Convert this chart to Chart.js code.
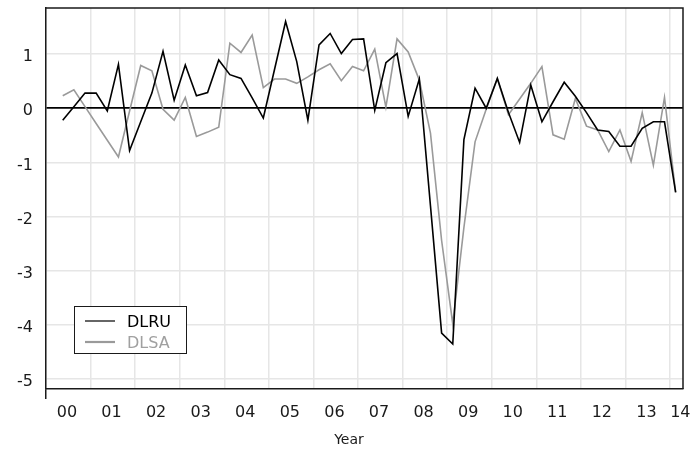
<!DOCTYPE html>
<html>
<head>
<meta charset="utf-8">
<script src="https://cdn.jsdelivr.net/npm/chart.js@4.4.1/dist/chart.umd.min.js"></script>
<style>
  html, body { margin: 0; padding: 0; background: #fff; }
</style>
</head>
<body>
<canvas id="chart" width="694" height="451"></canvas>
<script>
// quarterly series, 2000Q2 .. 2014Q1
const START_YEAR = 2000;
const START_QUARTER = 2;
const seriesNames = ["DLRU", "DLSA"];
const dlru = [
  -0.22, 0.03, 0.28, 0.28, -0.05, 0.81, -0.78, -0.25, 0.28, 1.05,
  0.15, 0.80, 0.23, 0.29, 0.89, 0.62, 0.55, 0.19, -0.18, 0.71,
  1.60, 0.86, -0.22, 1.17, 1.38, 1.01, 1.27, 1.28, -0.04, 0.84,
  1.01, -0.15, 0.54, -1.80, -4.15, -4.35, -0.58, 0.37, 0.00, 0.55,
  -0.08, -0.63, 0.43, -0.25, 0.12, 0.48, 0.22, -0.08, -0.40, -0.43,
  -0.70, -0.70, -0.37, -0.25, -0.25, -1.55,
];
const dlsa = [
  0.23, 0.34, 0.03, -0.28, -0.59, -0.90, -0.05, 0.79, 0.69, -0.02,
  -0.22, 0.20, -0.52, -0.44, -0.35, 1.20, 1.03, 1.35, 0.38, 0.54,
  0.54, 0.46, 0.58, 0.71, 0.82, 0.51, 0.77, 0.69, 1.09, 0.02,
  1.28, 1.04, 0.52, -0.46, -2.44, -3.98, -2.20, -0.62, -0.02, 0.55,
  -0.12, 0.17, 0.46, 0.77, -0.49, -0.57, 0.18, -0.33, -0.40, -0.80,
  -0.40, -0.98, -0.08, -1.05, 0.20, -1.55,
];
const yTicks = [-5, -4, -3, -2, -1, 0, 1];
const yearLabels = ["00", "01", "02", "03", "04", "05", "06", "07",
  "08", "09", "10", "11", "12", "13", "14"];

const FONT = '"DejaVu Sans", Verdana, sans-serif';
const INK = "#1a1a1a";
const GRID = "#e6e6e6";
const COLORS = ["#000000", "#9a9a9a"];

// quarter i sits at the middle of its quarter
function quarterX(i) {
  return START_YEAR + (START_QUARTER - 1 + i) / 4 + 0.125;
}
const toPoints = (arr) => arr.map((v, i) => ({ x: quarterX(i), y: v }));

// x ticks: year boundaries carry the grid, mid-year ticks carry the labels
const xTicks = [];
yearLabels.forEach((lab, i) => {
  const yr = START_YEAR + i;
  xTicks.push({ value: yr, text: "", grid: true });
  xTicks.push({ value: i === yearLabels.length - 1 ? yr + 0.23 : yr + 0.47, text: lab, grid: false });
});

function noPadding(scale) {
  scale.paddingTop = 0;
  scale.paddingBottom = 0;
  scale.paddingLeft = 0;
  scale.paddingRight = 0;
}

const frame = {
  id: "frame",
  afterDraw(chart) {
    const { ctx, chartArea: a } = chart;
    ctx.save();
    ctx.strokeStyle = INK;
    ctx.lineWidth = 1.5;
    ctx.beginPath();
    ctx.moveTo(a.left, a.top);
    ctx.lineTo(a.right, a.top);
    ctx.lineTo(a.right, a.bottom);
    ctx.stroke();

    // legend box
    const bx = 74.5, by = 306.5, bw = 112, bh = 47;
    ctx.fillStyle = "#fff";
    ctx.fillRect(bx, by, bw, bh);
    ctx.lineWidth = 1;
    ctx.strokeStyle = INK;
    ctx.strokeRect(bx, by, bw, bh);
    chart.data.datasets.forEach((ds, i) => {
      const y = 321 + i * 21;
      ctx.strokeStyle = ds.borderColor;
      ctx.lineWidth = i === 0 ? 1.2 : 2.2;
      ctx.beginPath();
      ctx.moveTo(85, y);
      ctx.lineTo(115, y);
      ctx.stroke();
      ctx.fillStyle = i === 0 ? "#000" : "#a0a0a0";
      ctx.font = "16px " + FONT;
      ctx.textBaseline = "middle";
      ctx.textAlign = "left";
      ctx.fillText(ds.label, 127, y + 1.5);
    });

    ctx.fillStyle = INK;
    ctx.font = "14px " + FONT;
    ctx.textAlign = "center";
    ctx.textBaseline = "middle";
    ctx.fillText("Year", 349, 440);
    ctx.restore();
  },
};

new Chart(document.getElementById("chart"), {
  type: "line",
  data: {
    datasets: [
      { label: seriesNames[0], data: toPoints(dlru), borderColor: COLORS[0], borderWidth: 1.6 },
      { label: seriesNames[1], data: toPoints(dlsa), borderColor: COLORS[1], borderWidth: 1.6 },
    ],
  },
  options: {
    responsive: false,
    animation: false,
    devicePixelRatio: 1,
    layout: { padding: { top: 8, right: 11, left: 0, bottom: 0 } },
    elements: { point: { radius: 0 }, line: { tension: 0, fill: false } },
    plugins: { legend: { display: false }, tooltip: { enabled: false } },
    scales: {
      x: {
        type: "linear",
        min: 2000,
        max: 2014.29,
        afterBuildTicks(scale) {
          scale.ticks = xTicks.map((t) => ({ value: t.value }));
        },
        afterFit(scale) { scale.height = 62; noPadding(scale); },
        ticks: {
          autoSkip: false,
          maxRotation: 0,
          minRotation: 0,
          padding: 4,
          color: INK,
          font: { family: FONT, size: 16 },
          callback: (v, i) => xTicks[i].text,
        },
        grid: {
          color: (ctx) => (xTicks[ctx.index] && xTicks[ctx.index].grid ? GRID : "rgba(0,0,0,0)"),
          tickColor: (ctx) => (ctx.index === 0 ? INK : "rgba(0,0,0,0)"),
          tickLength: 10,
          lineWidth: 1.5,
        },
        border: { display: true, color: INK, width: 1.5 },
      },
      y: {
        min: -5.18,
        max: 1.85,
        afterBuildTicks(scale) {
          scale.ticks = yTicks.map((v) => ({ value: v }));
        },
        afterFit(scale) { scale.width = 46; noPadding(scale); },
        ticks: {
          padding: 13,
          labelOffset: 3,
          color: INK,
          font: { family: FONT, size: 16 },
        },
        grid: {
          drawTicks: false,
          color: (ctx) => (ctx.tick && ctx.tick.value === 0 ? "#000" : GRID),
          lineWidth: (ctx) => (ctx.tick && ctx.tick.value === 0 ? 1.8 : 1.5),
        },
        border: { display: true, color: INK, width: 1.5 },
      },
    },
  },
  plugins: [frame],
});
</script>
</body>
</html>
